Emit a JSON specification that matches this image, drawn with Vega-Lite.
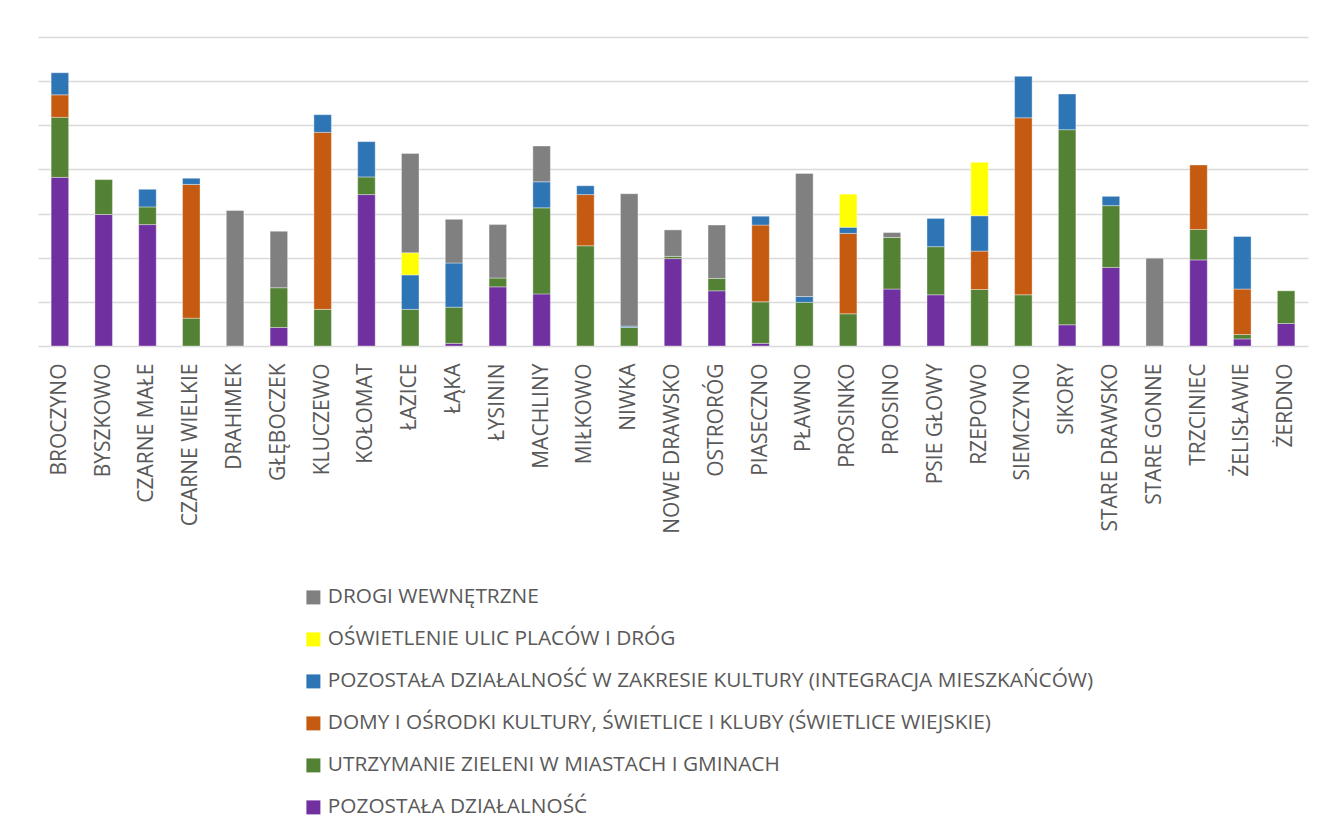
{
  "$schema": "https://vega.github.io/schema/vega-lite/v6.json",
  "autosize": "none",
  "width": 1270,
  "height": 309,
  "padding": {"left": 38, "top": 37, "right": 35, "bottom": 480},
  "background": "white",
  "title": {
    "text": "z podziałem na zadania",
    "font": "Liberation Serif",
    "fontSize": 31,
    "fontWeight": "normal",
    "color": "black",
    "anchor": "middle",
    "baseline": "alphabetic",
    "offset": 34.5,
    "dx": -60
  },
  "config": {
    "font": "Open Sans",
    "view": {"stroke": null}
  },
  "datasets": {
    "rows": [
      {"v": "BROCZYNO", "c": "POZOSTAŁA DZIAŁALNOŚĆ", "val": 3.82},
      {"v": "BROCZYNO", "c": "UTRZYMANIE ZIELENI W MIASTACH I GMINACH", "val": 1.36},
      {"v": "BROCZYNO", "c": "DOMY I OŚRODKI KULTURY, ŚWIETLICE I KLUBY (ŚWIETLICE WIEJSKIE)", "val": 0.51},
      {"v": "BROCZYNO", "c": "POZOSTAŁA DZIAŁALNOŚĆ W ZAKRESIE KULTURY (INTEGRACJA MIESZKAŃCÓW)", "val": 0.5},
      {"v": "BYSZKOWO", "c": "POZOSTAŁA DZIAŁALNOŚĆ", "val": 2.98},
      {"v": "BYSZKOWO", "c": "UTRZYMANIE ZIELENI W MIASTACH I GMINACH", "val": 0.79},
      {"v": "CZARNE MAŁE", "c": "POZOSTAŁA DZIAŁALNOŚĆ", "val": 2.75},
      {"v": "CZARNE MAŁE", "c": "UTRZYMANIE ZIELENI W MIASTACH I GMINACH", "val": 0.4},
      {"v": "CZARNE MAŁE", "c": "POZOSTAŁA DZIAŁALNOŚĆ W ZAKRESIE KULTURY (INTEGRACJA MIESZKAŃCÓW)", "val": 0.4},
      {"v": "CZARNE WIELKIE", "c": "UTRZYMANIE ZIELENI W MIASTACH I GMINACH", "val": 0.63},
      {"v": "CZARNE WIELKIE", "c": "DOMY I OŚRODKI KULTURY, ŚWIETLICE I KLUBY (ŚWIETLICE WIEJSKIE)", "val": 3.03},
      {"v": "CZARNE WIELKIE", "c": "POZOSTAŁA DZIAŁALNOŚĆ W ZAKRESIE KULTURY (INTEGRACJA MIESZKAŃCÓW)", "val": 0.14},
      {"v": "DRAHIMEK", "c": "DROGI WEWNĘTRZNE", "val": 3.07},
      {"v": "GŁĘBOCZEK", "c": "POZOSTAŁA DZIAŁALNOŚĆ", "val": 0.42},
      {"v": "GŁĘBOCZEK", "c": "UTRZYMANIE ZIELENI W MIASTACH I GMINACH", "val": 0.9},
      {"v": "GŁĘBOCZEK", "c": "DROGI WEWNĘTRZNE", "val": 1.28},
      {"v": "KLUCZEWO", "c": "UTRZYMANIE ZIELENI W MIASTACH I GMINACH", "val": 0.83},
      {"v": "KLUCZEWO", "c": "DOMY I OŚRODKI KULTURY, ŚWIETLICE I KLUBY (ŚWIETLICE WIEJSKIE)", "val": 4.01},
      {"v": "KLUCZEWO", "c": "POZOSTAŁA DZIAŁALNOŚĆ W ZAKRESIE KULTURY (INTEGRACJA MIESZKAŃCÓW)", "val": 0.4},
      {"v": "KOŁOMAT", "c": "POZOSTAŁA DZIAŁALNOŚĆ", "val": 3.43},
      {"v": "KOŁOMAT", "c": "UTRZYMANIE ZIELENI W MIASTACH I GMINACH", "val": 0.4},
      {"v": "KOŁOMAT", "c": "POZOSTAŁA DZIAŁALNOŚĆ W ZAKRESIE KULTURY (INTEGRACJA MIESZKAŃCÓW)", "val": 0.8},
      {"v": "ŁAZICE", "c": "UTRZYMANIE ZIELENI W MIASTACH I GMINACH", "val": 0.83},
      {"v": "ŁAZICE", "c": "POZOSTAŁA DZIAŁALNOŚĆ W ZAKRESIE KULTURY (INTEGRACJA MIESZKAŃCÓW)", "val": 0.78},
      {"v": "ŁAZICE", "c": "OŚWIETLENIE ULIC PLACÓW I DRÓG", "val": 0.5},
      {"v": "ŁAZICE", "c": "DROGI WEWNĘTRZNE", "val": 2.25},
      {"v": "ŁĄKA", "c": "POZOSTAŁA DZIAŁALNOŚĆ", "val": 0.06},
      {"v": "ŁĄKA", "c": "UTRZYMANIE ZIELENI W MIASTACH I GMINACH", "val": 0.82},
      {"v": "ŁĄKA", "c": "POZOSTAŁA DZIAŁALNOŚĆ W ZAKRESIE KULTURY (INTEGRACJA MIESZKAŃCÓW)", "val": 1.0},
      {"v": "ŁĄKA", "c": "DROGI WEWNĘTRZNE", "val": 0.99},
      {"v": "ŁYSININ", "c": "POZOSTAŁA DZIAŁALNOŚĆ", "val": 1.34},
      {"v": "ŁYSININ", "c": "UTRZYMANIE ZIELENI W MIASTACH I GMINACH", "val": 0.2},
      {"v": "ŁYSININ", "c": "DROGI WEWNĘTRZNE", "val": 1.21},
      {"v": "MACHLINY", "c": "POZOSTAŁA DZIAŁALNOŚĆ", "val": 1.18},
      {"v": "MACHLINY", "c": "UTRZYMANIE ZIELENI W MIASTACH I GMINACH", "val": 1.95},
      {"v": "MACHLINY", "c": "POZOSTAŁA DZIAŁALNOŚĆ W ZAKRESIE KULTURY (INTEGRACJA MIESZKAŃCÓW)", "val": 0.59},
      {"v": "MACHLINY", "c": "DROGI WEWNĘTRZNE", "val": 0.81},
      {"v": "MIŁKOWO", "c": "UTRZYMANIE ZIELENI W MIASTACH I GMINACH", "val": 2.27},
      {"v": "MIŁKOWO", "c": "DOMY I OŚRODKI KULTURY, ŚWIETLICE I KLUBY (ŚWIETLICE WIEJSKIE)", "val": 1.16},
      {"v": "MIŁKOWO", "c": "POZOSTAŁA DZIAŁALNOŚĆ W ZAKRESIE KULTURY (INTEGRACJA MIESZKAŃCÓW)", "val": 0.2},
      {"v": "NIWKA", "c": "UTRZYMANIE ZIELENI W MIASTACH I GMINACH", "val": 0.42},
      {"v": "NIWKA", "c": "POZOSTAŁA DZIAŁALNOŚĆ W ZAKRESIE KULTURY (INTEGRACJA MIESZKAŃCÓW)", "val": 0.03},
      {"v": "NIWKA", "c": "DROGI WEWNĘTRZNE", "val": 3.0},
      {"v": "NOWE DRAWSKO", "c": "POZOSTAŁA DZIAŁALNOŚĆ", "val": 1.98},
      {"v": "NOWE DRAWSKO", "c": "UTRZYMANIE ZIELENI W MIASTACH I GMINACH", "val": 0.05},
      {"v": "NOWE DRAWSKO", "c": "DROGI WEWNĘTRZNE", "val": 0.6},
      {"v": "OSTRORÓG", "c": "POZOSTAŁA DZIAŁALNOŚĆ", "val": 1.25},
      {"v": "OSTRORÓG", "c": "UTRZYMANIE ZIELENI W MIASTACH I GMINACH", "val": 0.28},
      {"v": "OSTRORÓG", "c": "DROGI WEWNĘTRZNE", "val": 1.21},
      {"v": "PIASECZNO", "c": "POZOSTAŁA DZIAŁALNOŚĆ", "val": 0.06},
      {"v": "PIASECZNO", "c": "UTRZYMANIE ZIELENI W MIASTACH I GMINACH", "val": 0.94},
      {"v": "PIASECZNO", "c": "DOMY I OŚRODKI KULTURY, ŚWIETLICE I KLUBY (ŚWIETLICE WIEJSKIE)", "val": 1.74},
      {"v": "PIASECZNO", "c": "POZOSTAŁA DZIAŁALNOŚĆ W ZAKRESIE KULTURY (INTEGRACJA MIESZKAŃCÓW)", "val": 0.2},
      {"v": "PŁAWNO", "c": "UTRZYMANIE ZIELENI W MIASTACH I GMINACH", "val": 0.99},
      {"v": "PŁAWNO", "c": "POZOSTAŁA DZIAŁALNOŚĆ W ZAKRESIE KULTURY (INTEGRACJA MIESZKAŃCÓW)", "val": 0.13},
      {"v": "PŁAWNO", "c": "DROGI WEWNĘTRZNE", "val": 2.79},
      {"v": "PROSINKO", "c": "UTRZYMANIE ZIELENI W MIASTACH I GMINACH", "val": 0.73},
      {"v": "PROSINKO", "c": "DOMY I OŚRODKI KULTURY, ŚWIETLICE I KLUBY (ŚWIETLICE WIEJSKIE)", "val": 1.82},
      {"v": "PROSINKO", "c": "POZOSTAŁA DZIAŁALNOŚĆ W ZAKRESIE KULTURY (INTEGRACJA MIESZKAŃCÓW)", "val": 0.14},
      {"v": "PROSINKO", "c": "OŚWIETLENIE ULIC PLACÓW I DRÓG", "val": 0.75},
      {"v": "PROSINO", "c": "POZOSTAŁA DZIAŁALNOŚĆ", "val": 1.29},
      {"v": "PROSINO", "c": "UTRZYMANIE ZIELENI W MIASTACH I GMINACH", "val": 1.17},
      {"v": "PROSINO", "c": "DROGI WEWNĘTRZNE", "val": 0.11},
      {"v": "PSIE GŁOWY", "c": "POZOSTAŁA DZIAŁALNOŚĆ", "val": 1.16},
      {"v": "PSIE GŁOWY", "c": "UTRZYMANIE ZIELENI W MIASTACH I GMINACH", "val": 1.09},
      {"v": "PSIE GŁOWY", "c": "POZOSTAŁA DZIAŁALNOŚĆ W ZAKRESIE KULTURY (INTEGRACJA MIESZKAŃCÓW)", "val": 0.64},
      {"v": "RZEPOWO", "c": "UTRZYMANIE ZIELENI W MIASTACH I GMINACH", "val": 1.28},
      {"v": "RZEPOWO", "c": "DOMY I OŚRODKI KULTURY, ŚWIETLICE I KLUBY (ŚWIETLICE WIEJSKIE)", "val": 0.87},
      {"v": "RZEPOWO", "c": "POZOSTAŁA DZIAŁALNOŚĆ W ZAKRESIE KULTURY (INTEGRACJA MIESZKAŃCÓW)", "val": 0.8},
      {"v": "RZEPOWO", "c": "OŚWIETLENIE ULIC PLACÓW I DRÓG", "val": 1.21},
      {"v": "SIEMCZYNO", "c": "UTRZYMANIE ZIELENI W MIASTACH I GMINACH", "val": 1.16},
      {"v": "SIEMCZYNO", "c": "DOMY I OŚRODKI KULTURY, ŚWIETLICE I KLUBY (ŚWIETLICE WIEJSKIE)", "val": 4.01},
      {"v": "SIEMCZYNO", "c": "POZOSTAŁA DZIAŁALNOŚĆ W ZAKRESIE KULTURY (INTEGRACJA MIESZKAŃCÓW)", "val": 0.94},
      {"v": "SIKORY", "c": "POZOSTAŁA DZIAŁALNOŚĆ", "val": 0.48},
      {"v": "SIKORY", "c": "UTRZYMANIE ZIELENI W MIASTACH I GMINACH", "val": 4.42},
      {"v": "SIKORY", "c": "POZOSTAŁA DZIAŁALNOŚĆ W ZAKRESIE KULTURY (INTEGRACJA MIESZKAŃCÓW)", "val": 0.81},
      {"v": "STARE DRAWSKO", "c": "POZOSTAŁA DZIAŁALNOŚĆ", "val": 1.78},
      {"v": "STARE DRAWSKO", "c": "UTRZYMANIE ZIELENI W MIASTACH I GMINACH", "val": 1.4},
      {"v": "STARE DRAWSKO", "c": "POZOSTAŁA DZIAŁALNOŚĆ W ZAKRESIE KULTURY (INTEGRACJA MIESZKAŃCÓW)", "val": 0.21},
      {"v": "STARE GONNE", "c": "DROGI WEWNĘTRZNE", "val": 1.99},
      {"v": "TRZCINIEC", "c": "POZOSTAŁA DZIAŁALNOŚĆ", "val": 1.95},
      {"v": "TRZCINIEC", "c": "UTRZYMANIE ZIELENI W MIASTACH I GMINACH", "val": 0.69},
      {"v": "TRZCINIEC", "c": "DOMY I OŚRODKI KULTURY, ŚWIETLICE I KLUBY (ŚWIETLICE WIEJSKIE)", "val": 1.46},
      {"v": "ŻELISŁAWIE", "c": "POZOSTAŁA DZIAŁALNOŚĆ", "val": 0.16},
      {"v": "ŻELISŁAWIE", "c": "UTRZYMANIE ZIELENI W MIASTACH I GMINACH", "val": 0.1},
      {"v": "ŻELISŁAWIE", "c": "DOMY I OŚRODKI KULTURY, ŚWIETLICE I KLUBY (ŚWIETLICE WIEJSKIE)", "val": 1.03},
      {"v": "ŻELISŁAWIE", "c": "POZOSTAŁA DZIAŁALNOŚĆ W ZAKRESIE KULTURY (INTEGRACJA MIESZKAŃCÓW)", "val": 1.19},
      {"v": "ŻERDNO", "c": "POZOSTAŁA DZIAŁALNOŚĆ", "val": 0.51},
      {"v": "ŻERDNO", "c": "UTRZYMANIE ZIELENI W MIASTACH I GMINACH", "val": 0.74}
    ]
  },
  "data": {"name": "rows"},
  "transform": [
    {"window": [{"op": "row_number", "as": "rank"}], "groupby": ["v"]}
  ],
  "mark": {"type": "bar", "stroke": "white", "strokeWidth": 0.6, "strokeOpacity": 0.6},
  "encoding": {
    "x": {
      "field": "v",
      "type": "nominal",
      "sort": null,
      "scale": {"paddingInner": 0.6, "paddingOuter": 0.3},
      "axis": {
        "title": null,
        "labelAngle": -90,
        "labelFontSize": 21,
        "labelColor": "#595959",
        "labelPadding": 17,
        "labelLimit": 400,
        "ticks": false,
        "domain": false,
        "grid": false
      }
    },
    "y": {
      "field": "val",
      "type": "quantitative",
      "stack": "zero",
      "scale": {"domain": [0, 7], "nice": false},
      "axis": {
        "title": null,
        "labels": false,
        "ticks": false,
        "domain": false,
        "grid": true,
        "values": [0, 1, 2, 3, 4, 5, 6, 7],
        "gridColor": "#D9D9D9",
        "gridWidth": 1.5
      }
    },
    "order": {"field": "rank", "type": "quantitative", "sort": "ascending"},
    "color": {
      "field": "c",
      "type": "nominal",
      "scale": {
        "domain": [
          "DROGI WEWNĘTRZNE",
          "OŚWIETLENIE ULIC PLACÓW I DRÓG",
          "POZOSTAŁA DZIAŁALNOŚĆ W ZAKRESIE KULTURY (INTEGRACJA MIESZKAŃCÓW)",
          "DOMY I OŚRODKI KULTURY, ŚWIETLICE I KLUBY (ŚWIETLICE WIEJSKIE)",
          "UTRZYMANIE ZIELENI W MIASTACH I GMINACH",
          "POZOSTAŁA DZIAŁALNOŚĆ"
        ],
        "range": ["#808080", "#FFFF00", "#2E75B6", "#C55A11", "#548235", "#7030A0"]
      },
      "legend": {
        "title": null,
        "orient": "none",
        "legendX": 265,
        "legendY": 550,
        "direction": "vertical",
        "symbolType": "square",
        "symbolSize": 196,
        "symbolStrokeWidth": 0,
        "labelFontSize": 20.8,
        "labelColor": "#595959",
        "labelOffset": 4,
        "labelLimit": 1200,
        "rowPadding": 20,
        "padding": 0
      }
    }
  }
}
